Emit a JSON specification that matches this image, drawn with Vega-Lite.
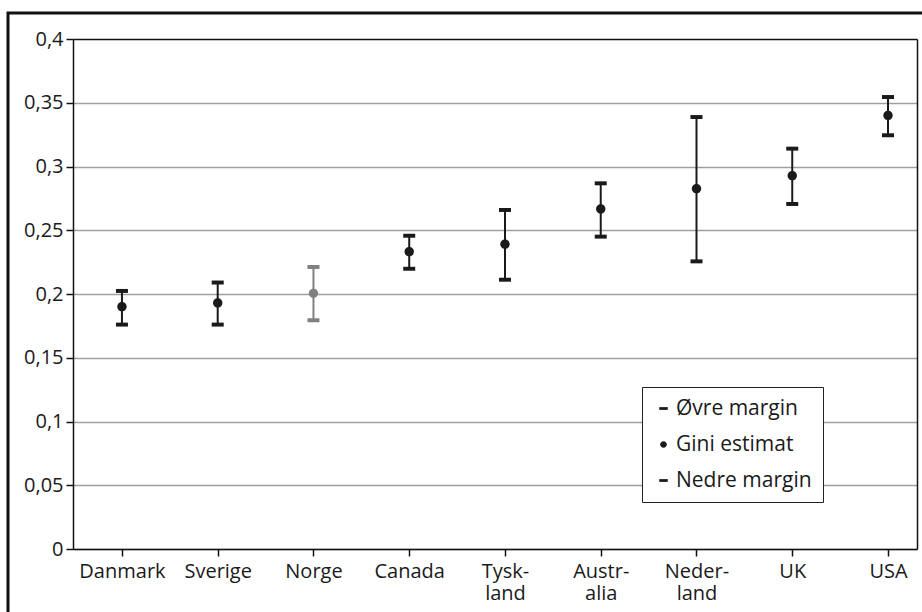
{
  "$schema": "https://vega.github.io/schema/vega-lite/v6.json",
  "width": 919,
  "height": 604,
  "autosize": "none",
  "padding": {"left": 8, "top": 13, "right": 0, "bottom": 0},
  "background": "white",
  "config": {
    "font": "Open Sans",
    "view": {"stroke": "#111111", "strokeWidth": 3}
  },
  "data": {
    "values": [
      {"country": "Danmark", "lower": 0.176, "est": 0.190, "upper": 0.2024},
      {"country": "Sverige", "lower": 0.176, "est": 0.193, "upper": 0.209},
      {"country": "Norge", "lower": 0.1794, "est": 0.2005, "upper": 0.2212},
      {"country": "Canada", "lower": 0.2198, "est": 0.2332, "upper": 0.2457},
      {"country": "Tyskland", "lower": 0.2112, "est": 0.239, "upper": 0.2659},
      {"country": "Australia", "lower": 0.245, "est": 0.2667, "upper": 0.2868},
      {"country": "Nederland", "lower": 0.2256, "est": 0.2826, "upper": 0.3388},
      {"country": "UK", "lower": 0.2706, "est": 0.2928, "upper": 0.314},
      {"country": "USA", "lower": 0.3245, "est": 0.340, "upper": 0.3545}
    ]
  },
  "resolve": {"axis": {"y": "independent"}},
  "layer": [
    {
      "mark": {"type": "rule", "strokeWidth": 2},
      "encoding": {
        "x": {
          "field": "country", "type": "nominal", "sort": null,
          "scale": {"type": "point", "range": [65, 909], "padding": 0.407, "align": 0.628},
          "axis": {
            "orient": "bottom", "offset": -68, "title": null,
            "domainColor": "#111111", "domainWidth": 1.5,
            "tickColor": "#111111", "tickWidth": 1.5, "tickSize": 7,
            "labelFontSize": 20, "labelColor": "#1a1a1a", "labelPadding": 5,
            "labelLineHeight": 22, "labelAngle": 0, "labelOverlap": false,
            "labelExpr": "datum.label == 'Tyskland' ? ['Tysk-', 'land'] : datum.label == 'Australia' ? ['Austr-', 'alia'] : datum.label == 'Nederland' ? ['Neder-', 'land'] : datum.label",
            "grid": false
          }
        },
        "y": {
          "field": "lower", "type": "quantitative",
          "scale": {"domain": [0, 0.4], "range": [536, 26], "nice": false},
          "axis": {
            "orient": "left", "offset": -65, "title": null,
            "values": [0, 0.05, 0.1, 0.15, 0.2, 0.25, 0.3, 0.35, 0.4],
            "labelExpr": "replace(format(datum.value, '.2~f'), '.', ',')",
            "labelFontSize": 20, "labelColor": "#1a1a1a", "labelPadding": 3,
            "domainColor": "#111111", "domainWidth": 1.5,
            "tickColor": "#111111", "tickWidth": 1.5, "tickSize": 7,
            "grid": true, "gridWidth": 1.5,
            "gridColor": {"condition": {"test": "datum.value == 0.4", "value": "#111111"}, "value": "#a0a0a0"}
          }
        },
        "y2": {"field": "upper"},
        "color": {"condition": {"test": "datum.country === 'Norge'", "value": "#808080"}, "value": "#1a1a1a"}
      }
    },
    {
      "transform": [{"fold": ["upper", "est", "lower"], "as": ["key", "value"]}],
      "mark": {"type": "point", "filled": true, "strokeWidth": 0, "opacity": 1, "size": 144},
      "encoding": {
        "x": {"field": "country", "type": "nominal", "sort": null},
        "y": {
          "field": "value", "type": "quantitative",
          "axis": {
            "orient": "right", "offset": -10, "title": null,
            "labels": false, "ticks": false, "grid": false,
            "domainColor": "#111111", "domainWidth": 1.5
          }
        },
        "shape": {
          "field": "key", "type": "nominal",
          "scale": {
            "domain": ["upper", "est", "lower"],
            "range": ["M-1,-0.33H1V0.33H-1Z", "M0.78,0A0.78,0.78 0 1,1 -0.78,0A0.78,0.78 0 1,1 0.78,0Z", "M-1,-0.33H1V0.33H-1Z"]
          },
          "legend": {
            "title": null,
            "orient": "none", "legendX": 634, "legendY": 374,
            "fillColor": "white", "strokeColor": "#222222",
            "padding": 11, "rowPadding": 14,
            "symbolSize": 72, "symbolFillColor": "#111111", "symbolStrokeWidth": 0,
            "labelFontSize": 21, "labelColor": "#1a1a1a", "labelOffset": 2,
            "labelExpr": "datum.label == 'upper' ? 'Øvre margin' : datum.label == 'est' ? 'Gini estimat' : 'Nedre margin'"
          }
        },
        "color": {"condition": {"test": "datum.country === 'Norge'", "value": "#808080"}, "value": "#1a1a1a"}
      }
    }
  ]
}
